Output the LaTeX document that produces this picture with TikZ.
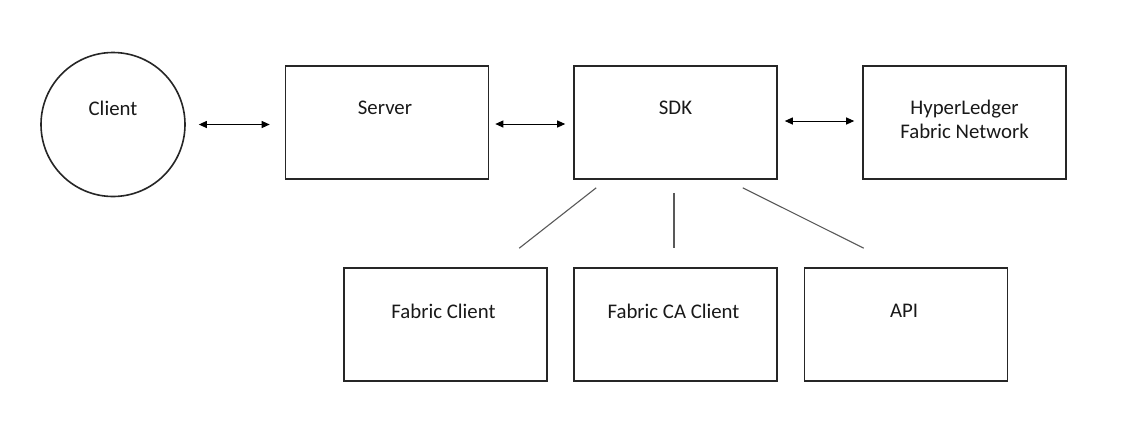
\documentclass[tikz,border=0pt]{standalone}
\usepackage{fontspec}
\setmainfont{Carlito}
\usetikzlibrary{arrows.meta,calc}
\begin{document}
\begin{tikzpicture}[x=1pt,y=-1pt,
  box/.style={draw=black!85,line width=1.6pt,minimum width=203pt,minimum height=113pt,inner sep=0pt},
  circ/.style={draw=black!85,line width=1.6pt,circle,minimum size=144pt,inner sep=0pt},
  lbl/.style={font=\fontsize{20.8}{23.5}\selectfont,text=black!90,align=center,inner sep=0pt},
  arr/.style={{Triangle[length=8pt,width=7pt]}-{Triangle[length=8pt,width=7pt]},line width=1pt,black},
  link/.style={draw=black!65,line width=1.1pt}]
\useasboundingbox (0,0) rectangle (1140,440);
\fill[white] (0,0) rectangle (1140,440);
\node[circ] (client) at (113,124.5) {};
\node[lbl] (clientT) at (113,108) {Client};
\node[box] (server) at (387,122.5) {};
\node[lbl] (serverT) at (385,108) {Server};
\node[box] (sdk) at (675.5,122.5) {};
\node[lbl] (sdkT) at (675.5,108) {SDK};
\node[box] (hl) at (964.5,122.5) {};
\node[lbl] (hlT) at (964.5,119.5) {HyperLedger\\Fabric Network};
\node[box] (fc) at (445.5,324.5) {};
\node[lbl] (fcT) at (443.5,311) {Fabric Client};
\node[box] (fca) at (675.5,324.5) {};
\node[lbl] (fcaT) at (673.5,311) {Fabric CA Client};
\node[box] (api) at (906,324.5) {};
\node[lbl] (apiT) at (904,311) {API};
\draw[arr,shorten <=13pt,shorten >=15pt] (client.east) -- (client.east -| server.west);
\draw[arr,shorten <=6pt,shorten >=8pt] ([yshift=-1.5pt]server.east) -- ([yshift=-1.5pt]sdk.west);
\draw[arr,shorten <=7pt,shorten >=8pt] ([yshift=1.5pt]sdk.east) -- ([yshift=1.5pt]hl.west);
\draw[link] ([xshift=23pt,yshift=-8pt]sdk.south west) -- ([xshift=176pt,yshift=19pt]fc.north west);
\draw[link] ([xshift=-1.5pt,yshift=-13pt]sdk.south) -- ([xshift=-1.5pt,yshift=19pt]fca.north);
\draw[link] ([xshift=-35pt,yshift=-8pt]sdk.south east) -- ([xshift=60pt,yshift=19pt]api.north west);
\end{tikzpicture}
\end{document}
